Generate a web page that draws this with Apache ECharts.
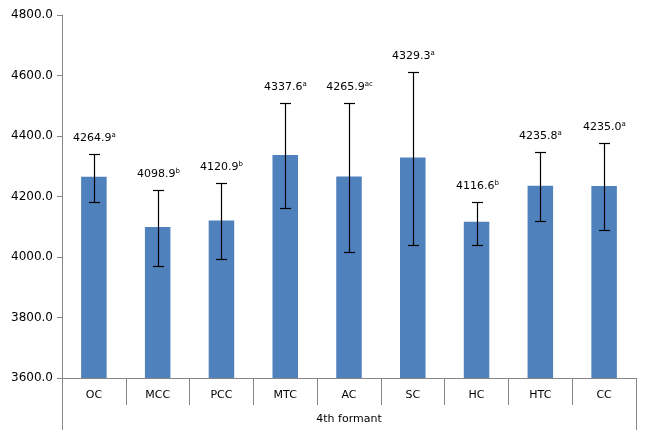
<!DOCTYPE html>
<html>
<head>
<meta charset="utf-8">
<script src="https://cdn.jsdelivr.net/npm/echarts@6/dist/echarts.min.js"></script>
<style>html,body{margin:0;padding:0;background:#fff}#c{width:652px;height:438px}</style>
</head>
<body>
<div id="c"></div>
<script>
const categories = ['OC','MCC','PCC','MTC','AC','SC','HC','HTC','CC'];
const means = [4264.9, 4098.9, 4120.9, 4337.6, 4265.9, 4329.3, 4116.6, 4235.8, 4235.0];
const errLow = [4181, 3970, 3992, 4161, 4017, 4040, 4041, 4119, 4089];
const errHigh = [4340, 4221, 4245, 4509, 4509, 4611, 4182, 4346, 4376];
const letters = ['a','b','b','a','ac','a','b','a','a'];
const yTicks = [3600, 3800, 4000, 4200, 4400, 4600, 4800];
const groupLabel = ['4th formant'];

const FONT = 'DejaVu Sans';
const chart = echarts.init(document.getElementById('c'));
chart.setOption({
  animation: false,
  grid: {left: 62, right: 16, top: 15, bottom: 60},
  xAxis: [{
    type: 'category', data: categories, position: 'bottom',
    axisLine: {lineStyle: {color: '#868686'}},
    axisTick: {show: true, length: 27, interval: 0, lineStyle: {color: '#868686'}},
    axisLabel: {color: '#000', fontFamily: FONT, fontSize: 11, margin: 12, interval: 0}
  }, {
    type: 'category', data: groupLabel, position: 'bottom',
    axisLine: {show: false},
    axisTick: {show: true, length: 52, lineStyle: {color: '#868686'}},
    axisLabel: {color: '#000', fontFamily: FONT, fontSize: 11, margin: 36}
  }],
  yAxis: {
    type: 'value', min: yTicks[0], max: yTicks[yTicks.length-1], interval: 200,
    splitLine: {show: false},
    axisLine: {show: true, lineStyle: {color: '#868686'}},
    axisTick: {show: true, length: 5, lineStyle: {color: '#868686'}},
    axisLabel: {color: '#000', fontFamily: FONT, fontSize: 12, margin: 9,
      formatter: v => v.toFixed(1)}
  },
  series: [{
    type: 'bar', data: means, barWidth: '40%', xAxisIndex: 0, z: 2,
    itemStyle: {color: '#4F81BD'}
  }, {
    type: 'custom', xAxisIndex: 0, z: 5,
    data: categories.map((c, i) => [i, errLow[i], errHigh[i]]),
    renderItem: function (params, api) {
      const i = params.dataIndex;
      const hi = api.coord([api.value(0), api.value(2)]);
      const lo = api.coord([api.value(0), api.value(1)]);
      const x = Math.round(hi[0]) + 0.5;
      const yh = Math.round(hi[1]) + 0.5, yl = Math.round(lo[1]) + 0.5;
      const hw = 5.5;
      const st = {stroke: '#000', lineWidth: 1.2};
      return {type: 'group', children: [
        {type: 'line', shape: {x1: x, y1: yh, x2: x, y2: yl}, style: st},
        {type: 'line', shape: {x1: x - hw, y1: yh, x2: x + hw, y2: yh}, style: st},
        {type: 'line', shape: {x1: x - hw, y1: yl, x2: x + hw, y2: yl}, style: st},
        {type: 'text', x: x, y: yh - 9, style: {
          text: '{v|' + means[i].toFixed(1) + '}{s|' + letters[i] + '}',
          align: 'center', verticalAlign: 'bottom',
          rich: {
            v: {fontFamily: FONT, fontSize: 11, fill: '#000', lineHeight: 14},
            s: {fontFamily: FONT, fontSize: 7, fill: '#000', lineHeight: 14, padding: [0, 0, 7, 0]}
          }
        }}
      ]};
    }
  }]
});
</script>
</body>
</html>
